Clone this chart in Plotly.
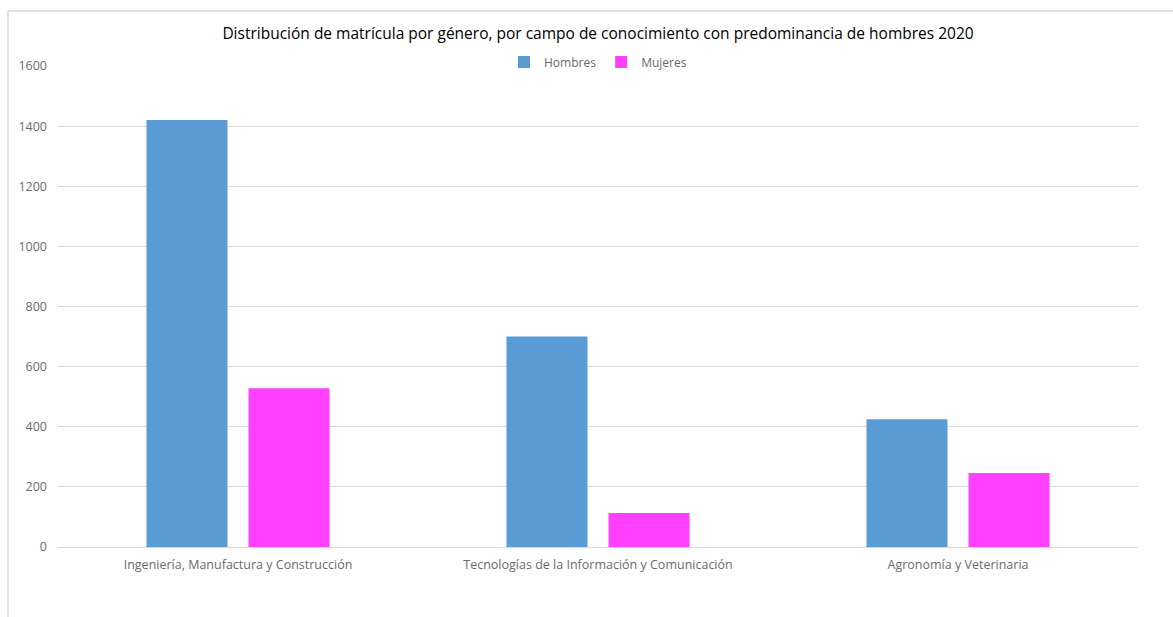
import plotly.graph_objects as go

categorias = [
    "Ingeniería, Manufactura y Construcción",
    "Tecnologías de la Información y Comunicación",
    "Agronomía y Veterinaria",
]
hombres = [1420, 700, 425]
mujeres = [528, 113, 246]

titulo = "Distribución de matrícula por género, por campo de conocimiento con predominancia de hombres 2020"

FONT = "Open Sans"
GRIS = "#6b6b6b"

fig = go.Figure()
fig.add_trace(go.Bar(name="Hombres", x=categorias, y=hombres, marker=dict(color="#5b9bd5", line=dict(width=0))))
fig.add_trace(go.Bar(name="Mujeres", x=categorias, y=mujeres, marker=dict(color="#ff40ff", line=dict(width=0))))

W, H = 1173, 617
ML, MR, MT, MB = 58, 35, 66, 70
pw, ph = W - ML - MR, H - MT - MB

def px_x(p):
    return (p - ML) / pw

def px_y(p):
    return (H - MB - p) / ph

fig.update_layout(
    width=W, height=H,
    margin=dict(l=ML, r=MR, t=MT, b=MB, autoexpand=False),
    paper_bgcolor="white", plot_bgcolor="white",
    barmode="group", bargap=0.433, bargroupgap=0.206,
    font=dict(family=FONT, color=GRIS, size=12),
    title=dict(text=titulo, x=0.5, xanchor="center", xref="paper",
               y=1 - 34 / H, yanchor="middle",
               font=dict(family=FONT, size=15.5, color="#000000")),
    legend=dict(orientation="h", x=0.5, xanchor="center", y=px_y(62), yanchor="middle",
                font=dict(family=FONT, size=12, color=GRIS), bgcolor="rgba(0,0,0,0)",
                itemwidth=30, traceorder="normal", tracegroupgap=0),
    xaxis=dict(showgrid=False, showline=True, linecolor="#d9d9d9", linewidth=1,
               ticks="", tickfont=dict(family=FONT, size=12.5, color=GRIS), ticklabelstandoff=6,
               fixedrange=True),
    yaxis=dict(range=[0, 1600], dtick=200, showgrid=True, gridcolor="#d9d9d9", gridwidth=1,
               zeroline=False, showline=False, ticks="",
               tickfont=dict(family=FONT, size=12.5, color=GRIS), ticklabelstandoff=10,
               fixedrange=True),
    shapes=[
        dict(type="line", xref="paper", yref="paper", x0=px_x(8), x1=px_x(8),
             y0=px_y(11), y1=px_y(H + 5), line=dict(color="#d9d9d9", width=1.5)),
        dict(type="line", xref="paper", yref="paper", x0=px_x(8), x1=px_x(W + 5),
             y0=px_y(11), y1=px_y(11), line=dict(color="#d9d9d9", width=1.5)),
    ],
)

fig.write_html("out.html")
